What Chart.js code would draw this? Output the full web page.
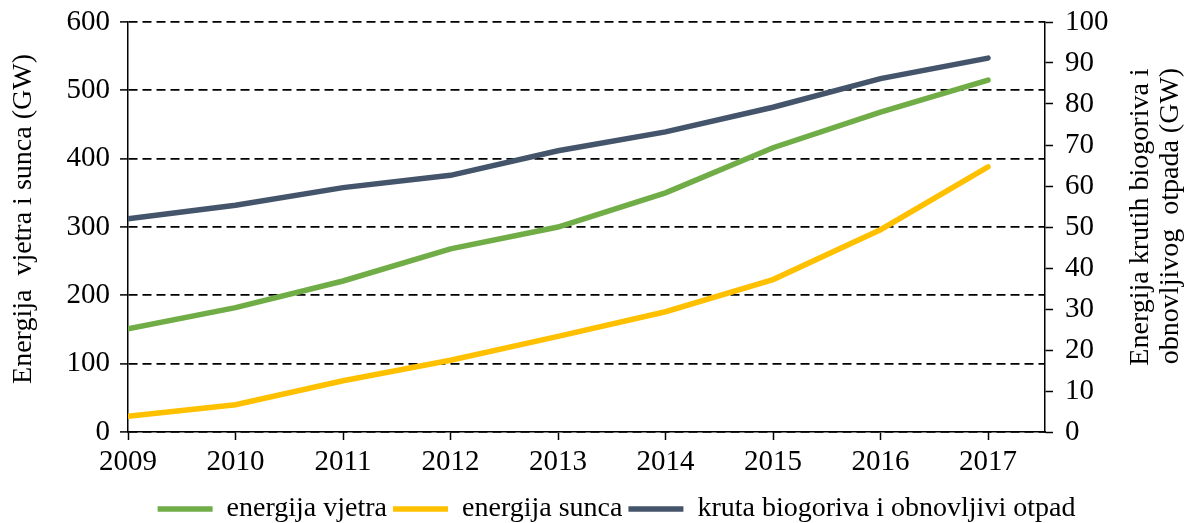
<!DOCTYPE html>
<html>
<head>
<meta charset="utf-8">
<script src="https://cdn.jsdelivr.net/npm/chart.js@4.4.0/dist/chart.umd.min.js"></script>
<style>
  body { margin: 0; background: #fff; }
  #wrap { width: 1185px; height: 523px; }
</style>
</head>
<body>
<div id="wrap"><canvas id="energyChart" width="1185" height="523"></canvas></div>
<script>
// data
var years = [2009, 2010, 2011, 2012, 2013, 2014, 2015, 2016, 2017];
var windGW = [151, 182, 221, 268, 300, 350, 416, 468, 515];
var solarGW = [23, 40, 75, 105, 140, 176, 223, 296, 388];
var bioGW = [52, 55.3, 59.6, 62.6, 68.6, 73.2, 79.2, 86.2, 91.2];
var leftTicks = [0, 100, 200, 300, 400, 500, 600];
var rightTicks = [0, 10, 20, 30, 40, 50, 60, 70, 80, 90, 100];

var serif = "'Liberation Serif', 'Times New Roman', serif";

function toPoints(values) {
    return years.map(function(y, i) { return { x: y, y: values[i] }; });
}

// both axis titles read bottom-to-top, drawn by hand so they sit where the original has them
var axisTitles = {
    id: 'axisTitles',
    afterDraw: function(chart) {
        var ctx = chart.ctx;
        var titles = [
            { text: 'Energija  vjetra i sunca (GW)', x: 24, y: 219 },
            { text: 'Energija krutih biogoriva i', x: 1141, y: 217 },
            { text: 'obnovljivog  otpada (GW)', x: 1171, y: 216 }
        ];
        ctx.save();
        ctx.fillStyle = '#000';
        ctx.font = '28px ' + serif;
        ctx.textAlign = 'center';
        ctx.textBaseline = 'middle';
        titles.forEach(function(t) {
            ctx.save();
            ctx.translate(t.x, t.y);
            ctx.rotate(-Math.PI / 2);
            ctx.fillText(t.text, 0, 0);
            ctx.restore();
        });
        ctx.restore();
    }
};

// plot top sits at y=22 like the original
function fixTop(scale) {
    scale.paddingTop = 22;
}

var ctx = document.getElementById('energyChart').getContext('2d');
new Chart(ctx, {
    type: 'line',
    data: {
        datasets: [{
            label: 'energija vjetra',
            data: toPoints(windGW),
            borderColor: '#70AD47',
            backgroundColor: '#70AD47',
            borderWidth: 5.5,
            borderCapStyle: 'round',
            pointRadius: 0,
            tension: 0,
            yAxisID: 'y'
        }, {
            label: 'energija sunca',
            data: toPoints(solarGW),
            borderColor: '#FFC000',
            backgroundColor: '#FFC000',
            borderWidth: 5.5,
            borderCapStyle: 'round',
            pointRadius: 0,
            tension: 0,
            yAxisID: 'y'
        }, {
            label: 'kruta biogoriva i obnovljivi otpad',
            data: toPoints(bioGW),
            borderColor: '#44546A',
            backgroundColor: '#44546A',
            borderWidth: 5.5,
            borderCapStyle: 'round',
            pointRadius: 0,
            tension: 0,
            yAxisID: 'y1'
        }]
    },
    options: {
        responsive: false,
        animation: false,
        // left padding pushes the legend right, the y axis width is cut back to match
        layout: { padding: { top: 0, left: 48, right: 0, bottom: -10 } },
        plugins: {
            legend: {
                position: 'bottom',
                labels: {
                    color: '#000',
                    font: { family: serif, size: 28 },
                    usePointStyle: true,
                    pointStyle: 'line',
                    pointStyleWidth: 55,
                    padding: 6
                }
            },
            tooltip: { enabled: false }
        },
        scales: {
            x: {
                type: 'linear',
                min: 2009,
                max: 2017.53,
                afterBuildTicks: function(axis) {
                    axis.ticks = years.map(function(v) { return { value: v }; });
                },
                afterFit: function(scale) { scale.height = 57; },
                ticks: {
                    color: '#000',
                    font: { family: serif, size: 29 },
                    padding: 5,
                    maxRotation: 0,
                    autoSkip: false,
                    callback: function(v) { return String(v); }
                },
                grid: {
                    drawOnChartArea: false,
                    drawTicks: true,
                    tickLength: 8,
                    tickColor: '#000',
                    tickWidth: 1.5
                },
                border: { color: '#000', width: 1.5 }
            },
            y: {
                position: 'left',
                min: 0,
                max: 600,
                afterBuildTicks: function(axis) {
                    axis.ticks = leftTicks.map(function(v) { return { value: v }; });
                },
                afterFit: function(scale) { scale.width = 80; fixTop(scale); },
                ticks: {
                    color: '#000',
                    font: { family: serif, size: 29 },
                    padding: 10
                },
                grid: {
                    color: '#000',
                    lineWidth: 1.8,
                    tickLength: 8,
                    tickColor: '#000',
                    tickWidth: 1.5,
                    tickBorderDash: []
                },
                border: { color: '#000', width: 1.5, dash: [9, 5] }
            },
            y1: {
                position: 'right',
                min: 0,
                max: 100,
                afterBuildTicks: function(axis) {
                    axis.ticks = rightTicks.map(function(v) { return { value: v }; });
                },
                afterFit: function(scale) { scale.width = 140; fixTop(scale); },
                ticks: {
                    color: '#000',
                    font: { family: serif, size: 29 },
                    padding: 12
                },
                grid: {
                    drawOnChartArea: false,
                    tickLength: 8,
                    tickColor: '#000',
                    tickWidth: 1.5
                },
                border: { color: '#000', width: 1.5 }
            }
        }
    },
    plugins: [axisTitles]
});
</script>
</body>
</html>
